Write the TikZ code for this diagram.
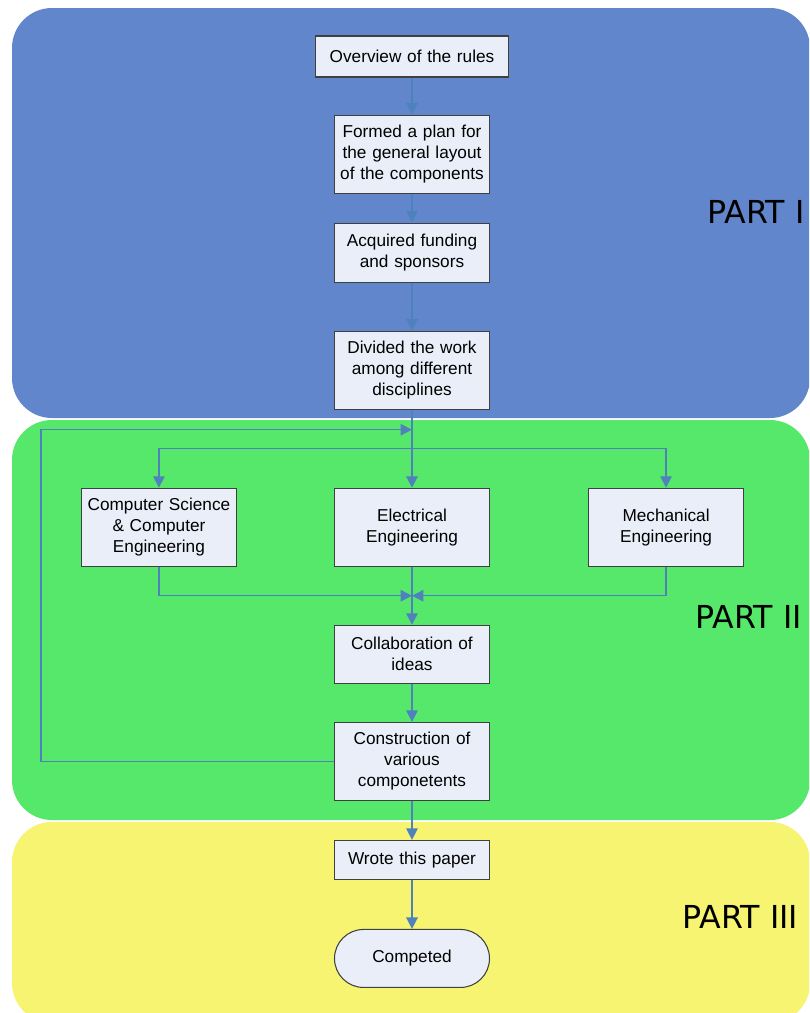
\documentclass[tikz,border=0pt]{standalone}
\usepackage{fontspec}
\newfontfamily\boxfont{Liberation Sans}
\newfontfamily\partfont{DejaVu Sans}
\usetikzlibrary{arrows.meta, positioning, calc}

\definecolor{partone}{RGB}{98,134,204}
\definecolor{parttwo}{RGB}{86,232,106}
\definecolor{partthree}{RGB}{246,244,112}
\definecolor{boxfill}{RGB}{233,238,248}
\definecolor{flowline}{RGB}{79,129,189}

\begin{document}
\begin{tikzpicture}[
    panel/.style    = {rounded corners=0.8cm},
    partlabel/.style= {anchor=west, inner sep=0pt, font=\partfont\fontsize{18}{20}\selectfont},
    stepbox/.style  = {rectangle, draw=black!75, line width=0.6pt, fill=boxfill,
                       text width=2.9cm, inner xsep=0.1cm, inner ysep=0.05cm, align=center,
                       font=\boxfont\fontsize{9.8}{12}\selectfont},
    endbox/.style   = {stepbox, rounded corners=0.58cm, minimum height=1.16cm},
    flow/.style     = {-{Triangle[length=6.5pt,width=6.5pt]}, draw=flowline, line width=0.8pt},
]

\useasboundingbox (0,0) rectangle (16.18,-20.26);
\clip (0,0) rectangle (16.18,-20.26);
\fill[white] (0,0) rectangle (16.18,-20.26);

% the three parts
\fill[panel, partone]   (0.24,-0.16)  rectangle (16.2,-8.36);
\fill[panel, parttwo]   (0.24,-8.40)  rectangle (16.2,-16.40);
\fill[panel, partthree] (0.24,-16.44) rectangle (16.2,-20.46);

\node[partlabel] (p1) at (14.14,-4.24)  {PART I};
\node[partlabel] (p2) at (13.90,-12.34) {PART II};
\node[partlabel] (p3) at (13.64,-18.34) {PART III};

% main column
\node[stepbox, text width=3.66cm, minimum height=0.82cm] (rules) at (8.24,-1.13) {Overview of the rules};
\node[stepbox, minimum height=1.56cm, below=0.74cm of rules]   (plan)    {Formed a plan for\\the general layout\\of the components};
\node[stepbox, minimum height=1.18cm, below=0.58cm of plan]    (funding) {Acquired funding\\and sponsors};
\node[stepbox, minimum height=1.56cm, below=0.96cm of funding] (divide)  {Divided the work\\among different\\disciplines};
\node[stepbox, minimum height=1.56cm, below=1.56cm of divide]  (ee)      {Electrical\\Engineering};
\node[stepbox, minimum height=1.56cm, left=1.94cm of ee]       (cs)      {Computer Science\\\& Computer\\Engineering};
\node[stepbox, minimum height=1.56cm, right=1.96cm of ee]      (me)      {Mechanical\\Engineering};
\node[stepbox, minimum height=1.16cm, below=1.16cm of ee]      (collab)  {Collaboration of\\ideas};
\node[stepbox, minimum height=1.56cm, below=0.76cm of collab]  (build)   {Construction of\\various\\componetents};
\node[stepbox, minimum height=0.78cm, below=0.78cm of build]   (paper)   {Wrote this paper};
\node[endbox,  below=0.98cm of paper]                          (done)    {Competed};

\coordinate (split)    at ($(divide.south)!0.5!(ee.north)$);
\coordinate (merge)    at ($(ee.south)!0.5!(collab.north)$);
\coordinate (loopin)   at ([yshift=-0.4cm]divide.south);
\coordinate (leftrail) at (0.82,0);

\draw[flow] (rules)   -- (plan);
\draw[flow] (plan)    -- (funding);
\draw[flow] (funding) -- (divide);
\draw[flow] (divide)  -- (ee);
\draw[flow] (split)   -| (cs);
\draw[flow] (split)   -| (me);
\draw[flow] (cs)      |- (merge);
\draw[flow] (me)      |- (merge);
\draw[flow] (ee)      -- (collab);
\draw[flow] (collab)  -- (build);
\draw[flow] (build.west) -- (build.west -| leftrail) |- (loopin);
\draw[flow] (build)   -- (paper);
\draw[flow] (paper)   -- (done);

\end{tikzpicture}
\end{document}
